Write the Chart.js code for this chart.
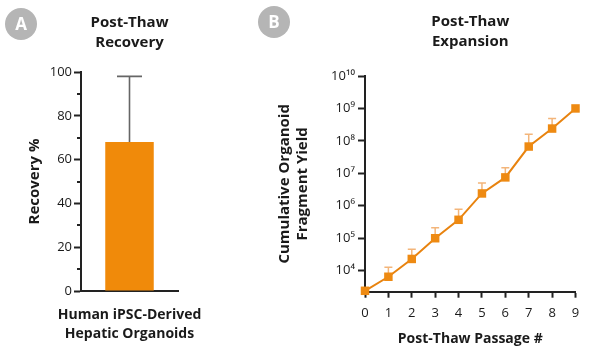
<!DOCTYPE html>
<html><head><meta charset="utf-8">
<script src="https://cdn.jsdelivr.net/npm/chart.js@4"></script>
<style>
html,body{margin:0;padding:0;background:#fff;width:610px;height:360px;overflow:hidden;font-family:'Open Sans',sans-serif}
#ca{position:absolute;left:0;top:0}
#cb{position:absolute;left:240px;top:0}
.badge{position:absolute;width:32px;height:32px;border-radius:50%;background:#b5b5b5;color:#fff;font:bold 17px 'Open Sans',sans-serif;text-align:center;line-height:32px}
</style></head><body>
<canvas id="ca" width="250" height="360"></canvas>
<canvas id="cb" width="370" height="360"></canvas>
<div class="badge" style="left:5px;top:8px">A</div>
<div class="badge" style="left:258px;top:6px">B</div>
<script>
// ---- Panel A data ----
const categoriesA = [['Human iPSC-Derived', 'Hepatic Organoids']];
const recoveryMean = [68];
const recoveryUpper = [98];
const yMinorA = [10, 30, 50, 70, 90];

// ---- Panel B data ----
const passages = ['0', '1', '2', '3', '4', '5', '6', '7', '8', '9'];
const yieldMean = [2400, 6500, 23000, 100000, 370000, 2400000, 7500000, 67000000, 240000000, 1000000000];
const yieldUpper = [null, 12700, 46000, 210000, 780000, 5000000, 15000000, 160000000, 490000000, null];
const yTicksB = [1e4, 1e5, 1e6, 1e7, 1e8, 1e9, 1e10];
const yTickLabelsB = ['10⁴', '10⁵', '10⁶', '10⁷', '10⁸', '10⁹', '10¹⁰'];

const FONT = "'Open Sans', sans-serif";
const TXT = '#1a1a1a';

function drawErr(chart, o) {
  const meta = chart.getDatasetMeta(0);
  const ys = chart.scales.y;
  const vals = chart.data.datasets[0].data;
  const ctx = chart.ctx;
  ctx.save();
  ctx.strokeStyle = o.color; ctx.lineWidth = o.width;
  o.upper.forEach((u, i) => {
    if (u == null) return;
    const x = meta.data[i].x;
    const y0 = ys.getPixelForValue(vals[i]);
    const y1 = ys.getPixelForValue(u);
    ctx.beginPath();
    ctx.moveTo(x, y0); ctx.lineTo(x, y1);
    ctx.moveTo(x - o.cap / 2, y1); ctx.lineTo(x + o.cap / 2, y1);
    ctx.stroke();
  });
  ctx.restore();
}
const errorBars = {
  id: 'errorBars',
  beforeDatasetsDraw(chart, a, o) { if (o.layer === 'before') drawErr(chart, o); },
  afterDatasetsDraw(chart, a, o) { if (o.layer !== 'before') drawErr(chart, o); }
};
const minorTicks = {
  id: 'minorTicks',
  afterDraw(chart, a, o) {
    if (!o.values) return;
    const ys = chart.scales.y, ctx = chart.ctx, x = chart.chartArea.left;
    ctx.save(); ctx.strokeStyle = '#222'; ctx.lineWidth = 2;
    o.values.forEach(v => {
      const y = Math.round(ys.getPixelForValue(v));
      ctx.beginPath(); ctx.moveTo(x - 4, y); ctx.lineTo(x, y); ctx.stroke();
    });
    ctx.restore();
  }
};

new Chart(document.getElementById('ca'), {
  type: 'bar',
  data: {
    labels: categoriesA,
    datasets: [{ data: recoveryMean, backgroundColor: '#F08A0A', borderWidth: 0, barPercentage: 0.5, categoryPercentage: 1 }]
  },
  options: {
    responsive: false, animation: false, devicePixelRatio: 1,
    layout: { padding: { left: 25, right: 72, top: 13, bottom: 17 } },
    plugins: {
      legend: { display: false }, tooltip: { enabled: false },
      title: { display: true, text: ['Post-Thaw', 'Recovery'], fullSize: false, color: TXT,
        font: { family: FONT, size: 15, weight: 'bold', lineHeight: 1.3 }, padding: { top: 0, bottom: 20 } },
      errorBars: { upper: recoveryUpper, color: '#666', width: 1.6, cap: 25, layer: 'after' },
      minorTicks: { values: yMinorA }
    },
    scales: {
      x: {
        grid: { display: false }, border: { display: true, color: '#222', width: 2 },
        ticks: { color: TXT, padding: 7, maxRotation: 0, minRotation: 0, autoSkip: false,
          font: { family: FONT, size: 14, weight: 'bold', lineHeight: 1.35 } },
        afterFit(s) { s.height = 52; s.paddingLeft = 0; s.paddingRight = 0; }
      },
      y: {
        min: 0, max: 100,
        grid: { drawOnChartArea: false, drawTicks: true, tickLength: 7, tickColor: '#222', tickWidth: 2 },
        border: { display: true, color: '#222', width: 2 },
        ticks: { stepSize: 20, color: TXT, padding: 2, font: { family: FONT, size: 13 } },
        title: { display: true, text: 'Recovery %', color: TXT, padding: 0,
          font: { family: FONT, size: 15, weight: 'bold', lineHeight: 1.33 } },
        afterFit(s) { s.width = 56; s.paddingTop = 0; s.paddingBottom = 0; }
      }
    }
  },
  plugins: [errorBars, minorTicks]
});

new Chart(document.getElementById('cb'), {
  type: 'line',
  data: {
    labels: passages,
    datasets: [{ data: yieldMean, borderColor: '#E8830F', borderWidth: 2, tension: 0, clip: false,
      pointStyle: 'rect', pointRadius: 6, pointHoverRadius: 6, pointBackgroundColor: '#EE8A12', pointBorderWidth: 0 }]
  },
  options: {
    responsive: false, animation: false, devicePixelRatio: 1,
    layout: { padding: { left: 36, right: 34.5, top: 12, bottom: 12.8 } },
    plugins: {
      legend: { display: false }, tooltip: { enabled: false },
      title: { display: true, text: ['Post-Thaw', 'Expansion'], fullSize: false, color: TXT,
        font: { family: FONT, size: 15, weight: 'bold', lineHeight: 1.3 }, padding: { top: 0, bottom: 25 } },
      errorBars: { upper: yieldUpper, color: '#F3B57A', width: 1.5, cap: 8, layer: 'before' }
    },
    scales: {
      x: {
        offset: false,
        grid: { drawOnChartArea: false, drawTicks: true, tickLength: 6, tickColor: '#222', tickWidth: 2 },
        border: { display: true, color: '#222', width: 2 },
        ticks: { color: TXT, padding: 7.5, maxRotation: 0, autoSkip: false, font: { family: FONT, size: 13 } },
        title: { display: true, text: 'Post-Thaw Passage #', color: TXT, padding: 0,
          font: { family: FONT, size: 14, weight: 'bold', lineHeight: 1.2 } },
        afterFit(s) { s.height = 55.5; }
      },
      y: {
        type: 'logarithmic', min: 2250, max: 1e10,
        afterBuildTicks(s) { s.ticks = yTicksB.map(v => ({ value: v })); },
        grid: { drawOnChartArea: false, drawTicks: true, tickLength: 7, tickColor: '#222', tickWidth: 2 },
        border: { display: true, color: '#222', width: 2 },
        ticks: { color: TXT, padding: 3, font: { family: FONT, size: 13 },
          callback: (v, i) => yTickLabelsB[i] },
        title: { display: true, text: ['Cumulative Organoid', 'Fragment Yield'], color: TXT, padding: 0,
          font: { family: FONT, size: 15, weight: 'bold', lineHeight: 1.2 } },
        afterFit(s) { s.width = 89; }
      }
    }
  },
  plugins: [errorBars]
});
</script>
</body></html>
